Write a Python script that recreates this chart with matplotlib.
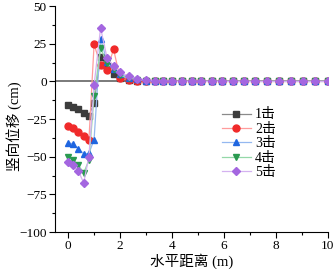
import matplotlib
matplotlib.use("Agg")
import matplotlib.pyplot as plt
from matplotlib.ticker import MultipleLocator

plt.rcParams['font.family'] = ['Liberation Serif', 'Noto Sans CJK SC']
plt.rcParams['mathtext.fontset'] = 'stix'

# horizontal distance (m)
x = [0, 0.2, 0.4, 0.6, 0.8, 1.0, 1.25, 1.5, 1.75, 2.0, 2.33, 2.67, 3.0, 3.33, 3.67,
     4.0, 4.37, 4.75, 5.13, 5.52, 5.91, 6.35, 6.77, 7.21, 7.64, 8.1, 8.56, 9.04, 9.52, 10]

tail = [0] * 15
y1 = [-15.4, -16.8, -18.5, -20.7, -22.7, -14.3, 16.4, 10.0, 4.9, 2.5, 1.2, 0.6, 0.3, 0.1, 0.0] + tail
y2 = [-29.8, -30.9, -33.5, -36.4, -39.1, 24.6, 10.8, 7.5, 21.4, 2.0, 1.0, 0.5, 0.2, 0.1, 0.0] + tail
y3 = [-40.6, -41.5, -44.7, -48.0, -47.8, -38.6, 28.3, 13.0, 8.5, 5.0, 2.5, 1.3, 0.6, 0.3, 0.1] + tail
y4 = [-50.1, -51.9, -55.6, -60.7, -52.3, -9.9, 22.0, 12.0, 8.0, 4.0, 2.2, 1.2, 0.5, 0.2, 0.1] + tail
y5 = [-53.6, -55.6, -59.6, -67.3, -50.1, -2.6, 35.5, 15.5, 10.4, 6.1, 3.4, 1.9, 0.8, 0.4, 0.2] + tail

labels = ['1击', '2击', '3击', '4击', '5击']
series = [y1, y2, y3, y4, y5]
markers = ['s', 'o', '^', 'v', 'D']
mcolors = ['#3c3c3c', '#f02a2a', '#1f66e0', '#2a9a50', '#a466e0']
lcolors = ['#8a8a8a', '#ff9c9c', '#94b8f0', '#94d8a8', '#d4b2f0']
msizes = [4.5, 5, 5, 5, 4]

fig = plt.figure(figsize=(3.36, 2.76), dpi=100)
ax = fig.add_axes([0.164, 0.159, 0.812, 0.819])

ax.axhline(0, color='#707070', lw=1.3, zorder=1)

for ys, lab, mk, mc, lc, ms in zip(series, labels, markers, mcolors, lcolors, msizes):
    ax.plot(x, ys, color=lc, lw=0.9, marker=mk, markersize=ms,
            markerfacecolor=mc, markeredgecolor=mc, label=lab, zorder=2)

ax.set_xlim(-0.5, 10)
ax.set_ylim(-100, 50)
ax.xaxis.set_major_locator(MultipleLocator(2))
ax.xaxis.set_minor_locator(MultipleLocator(1))
ax.yaxis.set_major_locator(MultipleLocator(25))
ax.yaxis.set_minor_locator(MultipleLocator(12.5))
ax.tick_params(which='major', direction='out', length=4, width=0.8, labelsize=9.5, pad=2)
ax.tick_params(which='minor', direction='out', length=2.5, width=0.8)

ax.spines['top'].set_visible(False)
ax.spines['right'].set_visible(False)

ax.set_xlabel('水平距离 (m)', fontsize=10.5, labelpad=1)
ax.set_ylabel('竖向位移 (cm)', fontsize=10.5)
ax.yaxis.set_label_coords(-0.12, 0.47)

ax.legend(loc='upper left', bbox_to_anchor=(0.575, 0.59), frameon=False,
          fontsize=10, handlelength=2.1, handletextpad=0.3, labelspacing=0.1,
          borderpad=0.2)

fig.savefig('out.png', dpi=100)
